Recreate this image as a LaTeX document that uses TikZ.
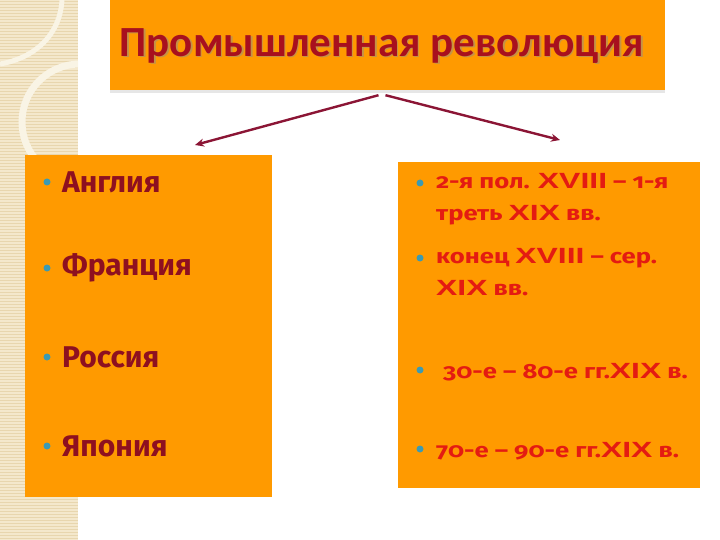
\documentclass[tikz,border=0pt]{standalone}
\usepackage{fontspec}
\setmainfont{Fira Sans}
\newfontfamily\titlefont{Carlito}
\newfontfamily\datefont[Numbers=OldStyle, FakeStretch=1.25]{Fira Sans}
\newfontfamily\romfont[FakeStretch=1.45]{Liberation Sans}
\usetikzlibrary{arrows.meta,shadows}
\definecolor{slideorange}{HTML}{FF9A00}
\definecolor{titlered}{HTML}{A8101E}
\definecolor{countryred}{HTML}{8E1020}
\definecolor{periodred}{HTML}{E41B12}
\definecolor{arrowred}{HTML}{8B1535}
\definecolor{bulletteal}{HTML}{3C9AB2}
\definecolor{stripebeige}{HTML}{F4E8CC}
\definecolor{stripeline}{HTML}{E8D6AE}
\newcommand{\rom}[1]{{\romfont\bfseries\fontsize{22}{32}\selectfont #1}}

\begin{document}
\begin{tikzpicture}[x=1pt, y=-1pt,
		box/.style={rectangle, fill=slideorange, inner sep=0pt},
		dot/.style={circle, fill=bulletteal, inner sep=0pt, minimum size=7pt},
		country/.style={anchor=west, inner sep=0pt, text=countryred, font=\fontsize{30}{36}\selectfont\bfseries},
		period/.style={anchor=north west, align=left, inner sep=0pt, text=periodred, font=\datefont\fontsize{20.5}{32}\selectfont\bfseries},
		arr/.style={-{Stealth[length=9pt, width=8pt]}, arrowred, line width=2.4pt}]
				\useasboundingbox (0,0) rectangle (720,540);
				% background strip
				\fill[stripebeige] (0,0) rectangle (78,540);
				\foreach \y in {1.5,4.5,...,540} \draw[stripeline, line width=0.7pt] (0,\y) -- (78,\y);
				\begin{scope}
					\clip (0,0) rectangle (78,540);
					\draw[white!50!stripebeige, line width=7pt] (80,122) circle[radius=58];
					\draw[white!50!stripebeige, line width=5pt] (62,0) .. controls (60,35) and (35,58) .. (0,64);
				\end{scope}
				% title
				\node[box, minimum width=555pt, minimum height=90pt, drop shadow={opacity=0.2, shadow xshift=0pt, shadow yshift=-3pt}] (title)at(387.5, 45) {};
				\node[text=black!45, opacity=0.5, font=\titlefont\fontsize{43}{50}\selectfont\bfseries] (titleshadow)at(383.5, 47.5) {Промышленная революция};
				\node[text=titlered, font=\titlefont\fontsize{43}{50}\selectfont\bfseries] (titletext)at(382, 46) {Промышленная революция};
				% boxes
				\node[box, minimum width=247pt, minimum height=342pt] (countries)at(148.5, 326) {};
				\node[box, minimum width=302pt, minimum height=326pt] (periods)at(549, 325) {};
				\coordinate (tipL)at(195, 145);
				\coordinate (tipR)at(560, 140);
				\draw[arr] ([xshift=-9pt, yshift=-5pt]title.south) -- (tipL);
				\draw[arr] ([xshift=-2pt, yshift=-5pt]title.south) -- (tipR);
				% left column
				\node[dot] (dotA)at(47, 182) {};
				\node[country] (england)at(62, 182) {Англия};
				\node[dot] (dotF)at(47, 268) {};
				\node[country] (france)at(62, 268) {Франция};
				\node[dot] (dotR)at(47, 357) {};
				\node[country] (russia)at(62, 357) {Россия};
				\node[dot] (dotJ)at(47, 446) {};
				\node[country] (japan)at(62, 446) {Япония};
				% right column
				\node[dot] (dot1)at(420, 183) {};
				\node[period] (per1)at(436, 173) {2-я пол. \rom{XVIII} – 1-я\\треть \rom{XIX} вв.};
				\node[dot] (dot2)at(420, 258) {};
				\node[period] (per2)at(436, 248) {конец \rom{XVIII} – сер.\\\rom{XIX} вв.};
				\node[dot] (dot3)at(420, 370) {};
				\node[period] (per3)at(443, 363) {30-е – 80-е гг.\rom{XIX} в.};
				\node[dot] (dot4)at(420, 449) {};
				\node[period] (per4)at(436, 442) {70-е – 90-е гг.\rom{XIX} в.};
			\end{tikzpicture}
\end{document}
